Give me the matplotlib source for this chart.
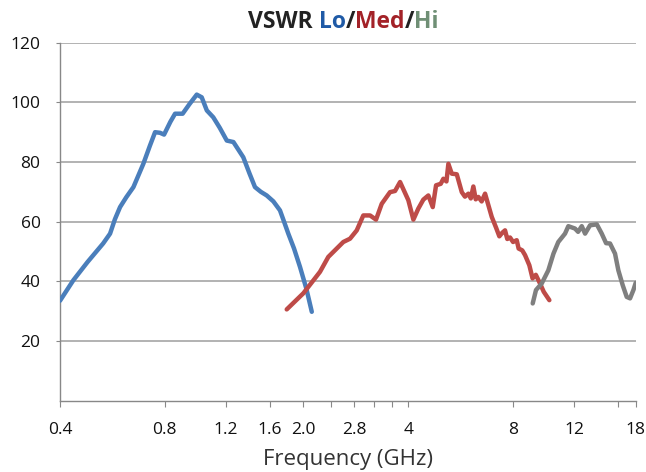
import matplotlib
matplotlib.use("Agg")
import matplotlib.pyplot as plt
from matplotlib.ticker import FixedLocator, FixedFormatter, NullLocator

plt.rcParams['font.family'] = ['Open Sans', 'DejaVu Sans']

# Lo band (blue)
lo_freq = [0.40, 0.437, 0.480, 0.532, 0.557, 0.575, 0.595, 0.620, 0.650, 0.694,
           0.725, 0.750, 0.775, 0.796, 0.830, 0.856, 0.900, 0.940, 0.988, 1.021,
           1.056, 1.102, 1.150, 1.205, 1.259, 1.300, 1.344, 1.400, 1.452, 1.510,
           1.569, 1.640, 1.713, 1.760, 1.810, 1.880, 1.956, 2.040, 2.114]
lo_vswr = [33.5, 40.4, 46.5, 52.7, 56.0, 60.8, 64.9, 68.2, 71.6, 79.4,
           85.5, 90.0, 89.8, 89.2, 93.5, 96.2, 96.2, 99.3, 102.6, 101.7,
           97.3, 95.0, 91.5, 87.2, 86.7, 84.2, 81.6, 76.2, 71.6, 70.0,
           68.8, 66.8, 63.8, 60.0, 56.0, 51.0, 44.8, 37.5, 29.8]

# Med band (red)
med_freq = [1.791, 1.999, 2.232, 2.358, 2.604, 2.722, 2.846, 2.972, 3.107, 3.233,
            3.357, 3.546, 3.666, 3.790, 4.003, 4.138, 4.276, 4.420, 4.569, 4.704,
            4.808, 4.959, 5.046, 5.150, 5.216, 5.334, 5.514, 5.700, 5.820, 5.954,
            6.050, 6.153, 6.250, 6.360, 6.500, 6.648, 6.949, 7.150, 7.306, 7.450,
            7.587, 7.700, 7.842, 8.000, 8.196, 8.300, 8.500, 8.660, 8.910, 9.100,
            9.300, 9.560, 9.800, 10.17]
med_vswr = [30.6, 36.0, 43.2, 48.2, 53.2, 54.3, 57.1, 62.1, 62.1, 60.7,
            66.0, 69.9, 70.3, 73.3, 67.2, 60.7, 64.4, 67.4, 68.8, 64.9,
            72.2, 72.7, 74.4, 73.5, 79.4, 76.1, 75.9, 69.9, 68.4, 69.4,
            67.8, 71.8, 67.5, 68.3, 66.8, 69.4, 61.6, 58.0, 55.1, 56.3,
            57.1, 54.2, 54.7, 53.2, 53.8, 51.0, 50.4, 48.8, 45.4, 41.0,
            42.2, 39.3, 36.5, 33.7]

# Hi band (gray)
hi_freq = [9.11, 9.31, 9.67, 10.10, 10.45, 10.79, 11.28, 11.53, 12.05, 12.30,
           12.60, 12.88, 13.31, 13.92, 14.38, 14.80, 15.19, 15.70, 16.05, 16.52,
           16.96, 17.34, 17.73, 18.0]
hi_vswr = [32.6, 37.1, 39.3, 43.7, 49.3, 53.2, 56.0, 58.5, 57.7, 56.6,
           58.5, 56.0, 58.8, 59.1, 56.0, 52.8, 52.7, 49.3, 43.7, 38.7,
           34.8, 34.3, 37.1, 39.5]

x_ticks = [0.4, 0.8, 1.2, 1.6, 2.0, 2.4, 2.8, 3.2, 3.6, 4, 8, 12, 16, 18]
x_labels = ['0.4', '0.8', '1.2', '1.6', '2.0', '', '2.8', '', '', '4', '8', '12', '', '18']
y_ticks = [20, 40, 60, 80, 100, 120]

fig = plt.figure(figsize=(6.46, 4.72), dpi=100)
ax = fig.add_axes([60 / 646, 1 - 400.7 / 472, 575.7 / 646, 358 / 472])

ax.plot(lo_freq, lo_vswr, color='#4A7EBB', lw=3.2, solid_capstyle='round',
        solid_joinstyle='round', zorder=3)
ax.plot(med_freq, med_vswr, color='#BE4B48', lw=3.2, solid_capstyle='round',
        solid_joinstyle='round', zorder=3)
ax.plot(hi_freq, hi_vswr, color='#7F7F7F', lw=3.2, solid_capstyle='round',
        solid_joinstyle='round', zorder=3)

ax.set_xscale('log')
ax.set_xlim(0.4, 18)
ax.set_ylim(0, 120)
ax.xaxis.set_major_locator(FixedLocator(x_ticks))
ax.xaxis.set_major_formatter(FixedFormatter(x_labels))
ax.xaxis.set_minor_locator(NullLocator())
ax.set_yticks(y_ticks)

ax.grid(axis='y', color='#A6A6A6', lw=1.2)
ax.set_axisbelow(True)
for s in ['top', 'right']:
    ax.spines[s].set_visible(False)
for s in ['left', 'bottom']:
    ax.spines[s].set_color('#888888')
    ax.spines[s].set_linewidth(1.0)
ax.tick_params(axis='x', direction='out', length=4, color='#888888', pad=11,
               labelsize=12.5, labelcolor='#111111')
ax.tick_params(axis='y', direction='out', length=3, color='#888888', pad=11,
               labelsize=12.5, labelcolor='#111111')

ax.set_xlabel('Frequency (GHz)', fontsize=16, color='#333333', labelpad=8)

# multicoloured title, pieces chained left to right
parts = [('VSWR ', '#222222'), ('Lo', '#1F5AA6'), ('/', '#222222'),
         ('Med', '#A32228'), ('/', '#222222'), ('Hi', '#6F8F75')]
anchor = fig.text(248 / 646, 1 - 28.3 / 472, parts[0][0], color=parts[0][1],
                  fontsize=16.5, fontweight='bold', va='baseline', ha='left')
for txt, col in parts[1:]:
    anchor = ax.annotate(txt, xy=(1, 0), xycoords=anchor, va='bottom', ha='left',
                         color=col, fontsize=16.5, fontweight='bold',
                         annotation_clip=False)

fig.savefig('out.png', dpi=100)
